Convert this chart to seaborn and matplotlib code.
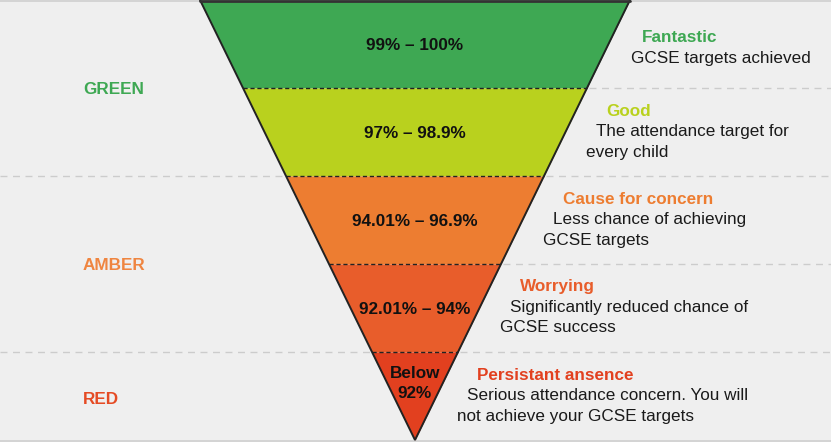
import matplotlib
matplotlib.use("Agg")
import matplotlib.pyplot as plt
import seaborn as sns
import numpy as np

# ---- data ----
ranges = ["99% – 100%", "97% – 98.9%", "94.01% – 96.9%", "92.01% – 94%", "Below\n92%"]
headings = ["Fantastic", "Good", "Cause for concern", "Worrying", "Persistant ansence"]
descriptions = [
    ["GCSE targets achieved"],
    ["The attendance target for", "every child"],
    ["Less chance of achieving", "GCSE targets"],
    ["Significantly reduced chance of", "GCSE success"],
    ["Serious attendance concern. You will", "not achieve your GCSE targets"],
]
band_colors = ["#3ea853", "#b9d11e", "#ed7d31", "#e85d2b", "#e2401f"]
heading_colors = ["#3ea853", "#b9d11e", "#ed7d31", "#e85d2b", "#e2401f"]
groups = ["GREEN", "AMBER", "RED"]
group_bands = [(0, 2), (2, 4), (4, 5)]
group_colors = ["#3ea853", "#ef8540", "#e54b24"]

sns.set_theme(style="white")
plt.rcParams["font.family"] = ["Liberation Sans", "DejaVu Sans"]

W, H = 831, 442
FS = 12.3
fig = plt.figure(figsize=(W / 100, H / 100), dpi=100)
fig.patch.set_facecolor("#efefef")
ax = fig.add_axes([0, 0, 1, 1])
ax.set_facecolor("#efefef")
ax.set_xlim(0, W)
ax.set_ylim(H, 0)
ax.axis("off")

n = len(ranges)
top_y, apex_y = 0.0, 440.0
cx, half_w = 415.0, 215.0
band_h = (apex_y - top_y) / n


def left(y):
    return cx - half_w * (apex_y - y) / (apex_y - top_y)


def right(y):
    return cx + half_w * (apex_y - y) / (apex_y - top_y)


pal = sns.color_palette(band_colors)
for i in range(n):
    y0, y1 = top_y + i * band_h, top_y + (i + 1) * band_h
    ys = np.array([y0, y1])
    ax.fill_betweenx(ys, left(ys), right(ys), color=pal[i], lw=0, zorder=2)
    rlines = ranges[i].split("\n")
    ym = (y0 + y1) / 2 + 1.5 if len(rlines) == 1 else y0 + 32
    for k, rl in enumerate(rlines):
        ax.text(cx, ym + (k - (len(rlines) - 1) / 2) * 20, rl, ha="center",
                va="center", fontsize=FS, fontweight="bold", color="#111111",
                zorder=5)
    if i > 0:
        ax.plot([left(y0), right(y0)], [y0, y0], color="#222222", lw=1.0,
                ls=(0, (3, 2)), zorder=4)
        ax.plot([right(y0) + 2, W], [y0, y0], color="#cccccc", lw=1.0,
                ls=(0, (5, 4)), zorder=1)
    lines = [headings[i]] + descriptions[i]
    if len(lines) == 2:
        ys_t = [y0 + 38, y0 + 59]
    else:
        ys_t = [y0 + 23, y0 + 43.5, y0 + 64]
    for k, (txt, yy) in enumerate(zip(lines, ys_t)):
        ax.text(right(yy) + 30, yy, txt, ha="left", va="center", fontsize=FS,
                fontweight="bold" if k == 0 else "normal",
                color=heading_colors[i] if k == 0 else "#1a1a1a", zorder=5)

# outline of funnel
ax.plot([left(top_y), cx, right(top_y)], [top_y, apex_y, top_y], color="#222222",
        lw=1.4, zorder=6, solid_joinstyle="miter")
ax.plot([left(top_y), right(top_y)], [0.8, 0.8], color="#333333", lw=2.0, zorder=6)

# faint frame lines top/bottom
ax.plot([0, W], [0.5, 0.5], color="#cfcfcf", lw=1.2, zorder=0)
ax.plot([0, W], [440.5, 440.5], color="#cfcfcf", lw=1.2, zorder=0)

# left group labels and separators
for g, (a, b), c in zip(groups, group_bands, group_colors):
    y0, y1 = top_y + a * band_h, top_y + b * band_h
    ym = (y0 + y1) / 2 if b < n else (y0 + H) / 2
    ax.text(83, ym + 2, g, ha="left", va="center", fontsize=FS,
            fontweight="bold", color=c, zorder=5)
    if a > 0:
        ax.plot([0, left(y0) - 2], [y0, y0], color="#cccccc", lw=1.0,
                ls=(0, (5, 4)), zorder=1)

fig.savefig("out.png", dpi=100, facecolor=fig.get_facecolor())
